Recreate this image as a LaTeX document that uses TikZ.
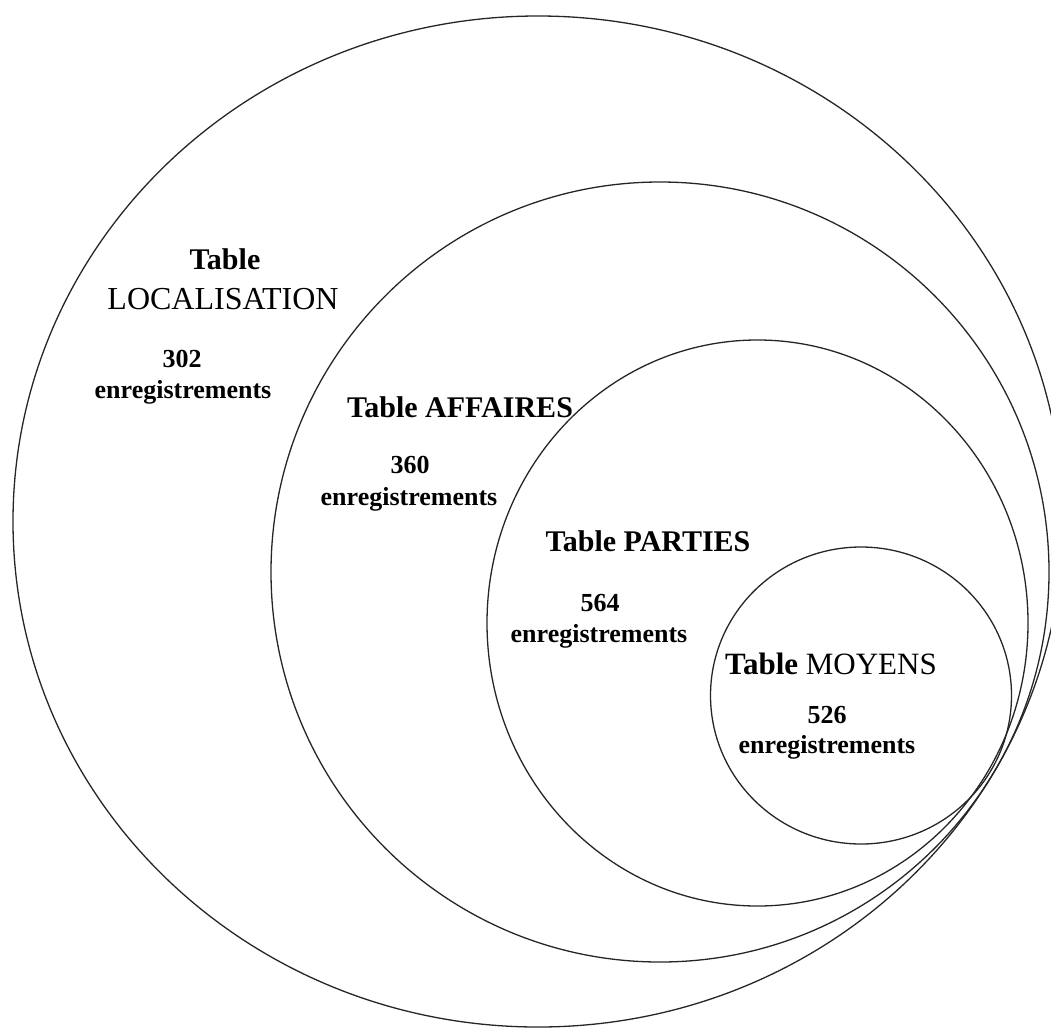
\documentclass[tikz,border=0pt]{standalone}
\usepackage{fontspec}
\setmainfont{Liberation Serif}
\begin{document}
\begin{tikzpicture}[x=1pt,y=-1pt,
  circ/.style={draw=black!85,line width=1.3pt},
  ttl/.style={anchor=base,inner sep=0pt,font=\fontsize{30}{36}\selectfont},
  num/.style={anchor=base,inner sep=0pt,font=\fontsize{26}{30}\selectfont\bfseries}]
\useasboundingbox (0,0) rectangle (1051,1028);
\clip (0,0) rectangle (1051,1028);
\draw[circ] (538,521.5) ellipse [x radius=525pt, y radius=505.5pt];
\draw[circ] (660,572) ellipse [x radius=389pt, y radius=390pt];
\draw[circ] (757.5,623) ellipse [x radius=270.5pt, y radius=283pt];
\draw[circ] (861,695.5) ellipse [x radius=150.5pt, y radius=148.5pt];
% LOCALISATION
\node[ttl] (t1) at (225,269) {\textbf{Table}};
\node[ttl,font=\fontsize{32}{38}\selectfont] (t1b) at (223,309) {LOCALISATION};
\node[num] (n1) at (182,367) {302};
\node[num] (e1) at (183,398) {enregistrements};
% AFFAIRES
\node[ttl] (t2) at (460,417) {\textbf{Table AFFAIRES}};
\node[num] (n2) at (410,473) {360};
\node[num] (e2) at (409,505) {enregistrements};
% PARTIES
\node[ttl] (t3) at (648,551) {\textbf{Table PARTIES}};
\node[num] (n3) at (600,611) {564};
\node[num] (e3) at (599,642) {enregistrements};
% MOYENS
\node[ttl,font=\fontsize{31}{36}\selectfont] (t4) at (831,674) {\textbf{Table} MOYENS};
\node[num] (n4) at (827,723) {526};
\node[num] (e4) at (827,753) {enregistrements};
\end{tikzpicture}
\end{document}
